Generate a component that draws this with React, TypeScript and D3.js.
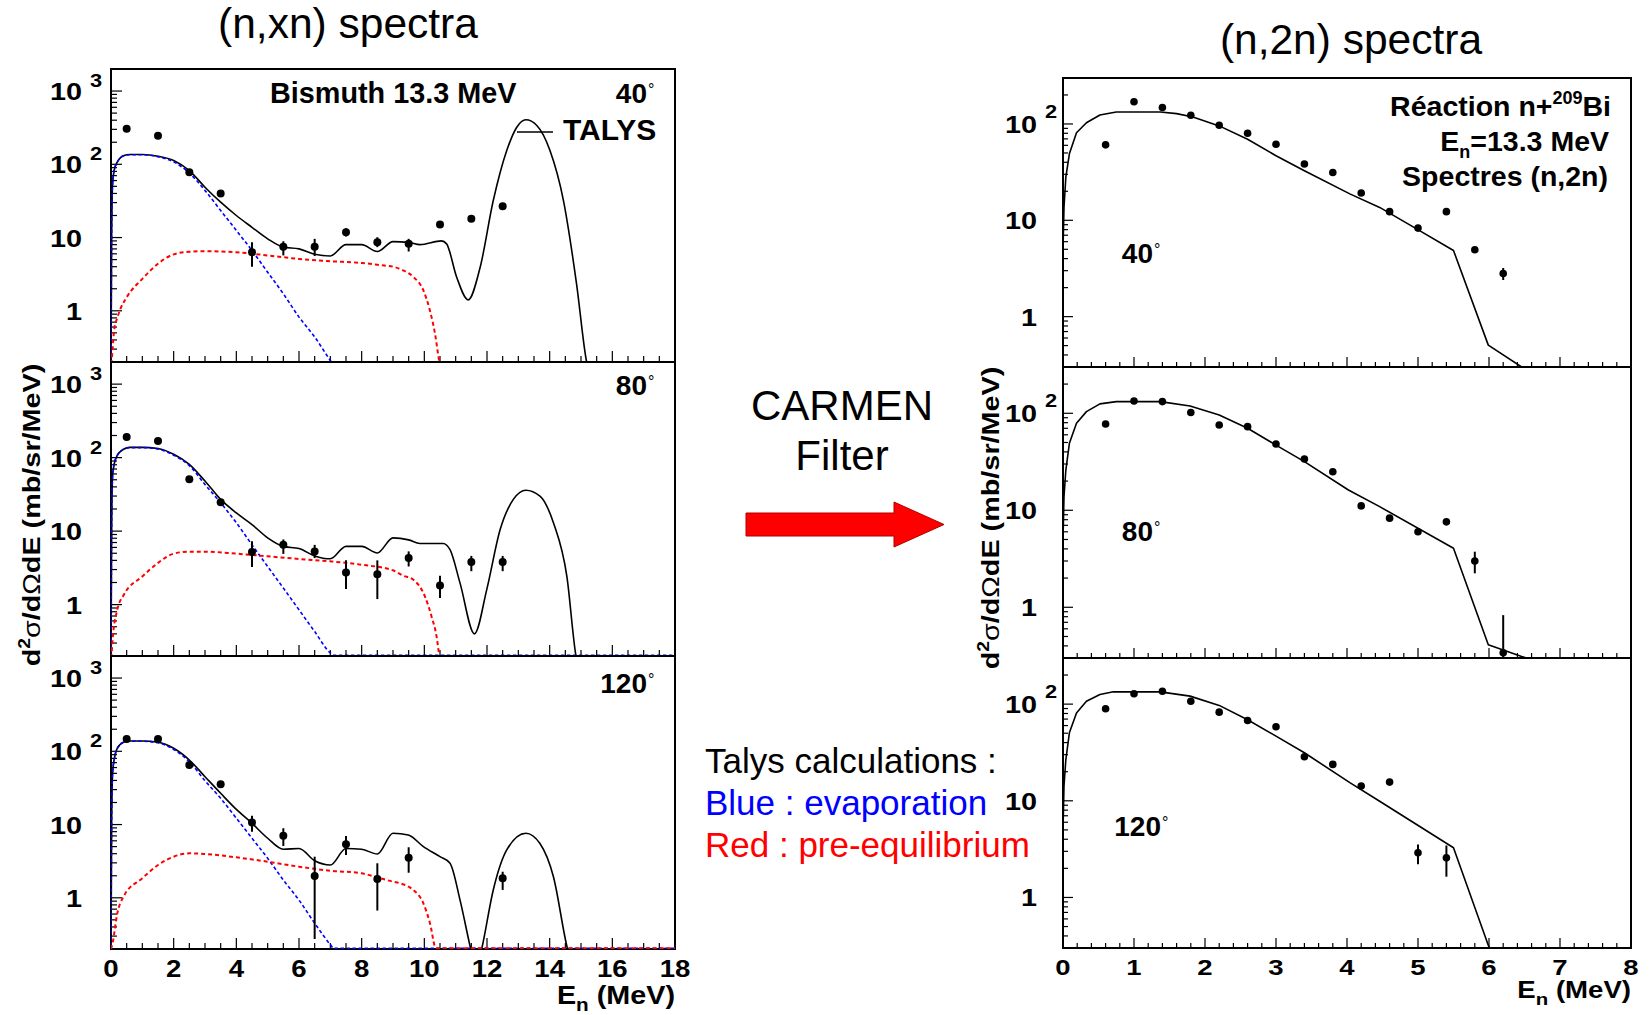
import React from "react";
import * as d3 from "d3";

type Pt = [number, number]; // [E (MeV), d2sigma/dOmega dE]
type DataPt = [number, number, number, number]; // [E, value, errLow, errHigh]

const FONT = "'Liberation Sans', Arial, Helvetica, sans-serif";

// ---------------- (n,xn) spectra : Bismuth 13.3 MeV ----------------
const xnAngleLabels = ["40", "80", "120"];
const xnXTickLabels = [0, 2, 4, 6, 8, 10, 12, 14, 16, 18];
const xnYTickLabels: [number, string, string][] = [
  [1000, "10", "3"],
  [100, "10", "2"],
  [10, "10", ""],
  [1, "1", ""],
];

const xn40Data: DataPt[] = [
  [0.5, 305, 305, 305], [1.5, 245, 245, 245], [2.5, 78, 78, 78], [3.5, 40, 40, 40],
  [4.5, 6.3, 4.0, 8.6], [5.5, 7.5, 5.7, 8.9], [6.5, 7.5, 5.6, 9.6], [7.5, 11.8, 10.3, 13.4],
  [8.5, 8.6, 7.4, 10.1], [9.5, 8.2, 6.45, 9.6], [10.5, 15.1, 15.1, 15.1], [11.5, 18, 18, 18],
  [12.5, 26.8, 26.8, 26.8],
];
const xn40Talys: Pt[] = [
  [0, 0.15], [0.02, 10], [0.05, 54], [0.1, 82], [0.2, 107], [0.4, 131], [0.6, 136], [1.0, 136],
  [1.5, 129], [2.0, 113], [2.5, 82], [3.0, 48.7], [3.5, 30.4], [4.0, 20], [4.5, 13.8], [5.0, 9.6],
  [5.5, 7.4], [6.0, 7.0], [6.5, 5.9], [7.0, 5.6], [7.5, 8.0], [8.0, 8.0], [8.5, 6.45], [9.0, 8.8],
  [9.5, 8.6], [9.86, 8.0], [10.55, 9.0], [10.71, 8.2], [11.03, 2.9], [11.4, 1.41], [11.78, 3.9],
  [12.2, 32], [12.63, 154], [12.95, 321], [13.24, 405], [13.59, 339], [14.01, 154], [14.44, 32],
  [14.86, 2.3], [15.18, 0.2], [15.25, 0.15],
];
const xn40Evap: Pt[] = [
  [0, 0.15], [0.02, 10], [0.05, 54], [0.1, 82], [0.2, 107], [0.4, 131], [0.6, 135], [1.0, 135],
  [1.5, 127], [2.0, 108], [2.5, 76], [3.0, 44], [3.5, 23.4], [4.0, 12.5], [4.5, 6.65], [5.0, 3.36],
  [5.5, 1.71], [6.0, 0.82], [6.5, 0.44], [7.0, 0.21], [7.2, 0.16],
];
const xn40Preeq: Pt[] = [
  [0, 0.15], [0.05, 0.3], [0.1, 0.54], [0.2, 0.8], [0.3, 1.06], [0.5, 1.53], [1.0, 2.73],
  [1.5, 4.4], [2.0, 5.9], [2.5, 6.4], [3.0, 6.5], [4.0, 6.3], [5.0, 5.7], [6.0, 5.1], [7.0, 4.75],
  [8.0, 4.5], [8.6, 4.2], [9.0, 4.0], [9.3, 3.6], [9.65, 2.9], [9.97, 1.9], [10.18, 1.0],
  [10.34, 0.49], [10.48, 0.2], [10.55, 0.15],
];

const xn80Data: DataPt[] = [
  [0.5, 191, 191, 191], [1.5, 169, 169, 169], [2.5, 50.6, 50.6, 50.6], [3.5, 24.8, 24.8, 24.8],
  [4.5, 5.2, 3.25, 7.3], [5.5, 6.55, 4.9, 7.7], [6.5, 5.3, 4.3, 6.5], [7.5, 2.74, 1.63, 4.0],
  [8.5, 2.6, 1.19, 4.0], [9.5, 4.3, 3.3, 5.3], [10.5, 1.82, 1.23, 2.47], [11.5, 3.8, 2.85, 4.6],
  [12.5, 3.8, 2.85, 4.6],
];
const xn80Talys: Pt[] = [
  [0, 0.15], [0.02, 10], [0.05, 56], [0.1, 81], [0.2, 107], [0.4, 130], [0.6, 138], [1.0, 138],
  [1.5, 133], [2.0, 111], [2.5, 81], [3.0, 48], [3.5, 27], [4.0, 17.7], [4.5, 12.3], [5.0, 8.1],
  [5.5, 6.2], [6.0, 5.8], [6.5, 4.6], [7.0, 4.2], [7.5, 6.2], [8.0, 6.2], [8.5, 5.05], [9.0, 8.1],
  [9.5, 7.6], [9.86, 6.8], [10.6, 6.8], [10.82, 5.6], [11.14, 1.96], [11.6, 0.4], [11.99, 1.59],
  [12.42, 10.5], [12.84, 27], [13.24, 36], [13.69, 30], [14.12, 13], [14.55, 2.4], [14.84, 0.2],
  [14.9, 0.15],
];
const xn80Evap: Pt[] = [
  [0, 0.15], [0.02, 10], [0.05, 56], [0.1, 81], [0.2, 107], [0.4, 130], [0.6, 137], [1.0, 137],
  [1.5, 131], [2.0, 108], [2.5, 78], [3.0, 43], [3.5, 24.3], [4.0, 13], [4.5, 6.5], [5.0, 3.3],
  [5.5, 1.68], [6.0, 0.85], [6.5, 0.43], [7.0, 0.22], [7.1, 0.205], [18, 0.205],
];
const xn80Preeq: Pt[] = [
  [0, 0.15], [0.05, 0.33], [0.2, 0.85], [0.41, 1.36], [1.0, 2.42], [1.5, 3.7], [2.0, 4.94],
  [2.5, 5.26], [3.0, 5.26], [4.0, 4.94], [5.0, 4.54], [6.0, 4.18], [7.0, 3.88], [8.0, 3.49],
  [9.0, 2.93], [9.3, 2.5], [9.65, 2.18], [10.02, 1.29], [10.23, 0.69], [10.39, 0.37],
  [10.48, 0.2], [10.55, 0.15],
];

const xn120Data: DataPt[] = [
  [0.5, 147, 147, 147], [1.5, 147, 147, 147], [2.5, 65, 65, 65], [3.5, 35.4, 35.4, 35.4],
  [4.5, 10.7, 8.0, 13.2], [5.5, 7.05, 5.1, 8.9], [6.5, 1.99, 0.274, 3.64], [7.5, 5.4, 3.84, 7.0],
  [8.5, 1.8, 0.67, 2.96], [9.5, 3.53, 2.2, 4.9], [12.5, 1.85, 1.28, 2.27],
];
const xn120Talys: Pt[] = [
  [0, 0.15], [0.02, 10], [0.05, 50], [0.1, 76], [0.2, 110], [0.4, 133], [0.6, 138], [1.0, 138],
  [1.5, 133], [2.0, 110], [2.5, 76], [3.0, 45], [3.5, 26.7], [4.0, 16.1], [4.5, 10.4], [5.0, 6.5],
  [5.5, 4.6], [6.0, 4.7], [6.5, 3.2], [7.0, 2.8], [7.5, 4.7], [8.0, 4.6], [8.5, 3.96], [9.0, 7.6],
  [9.49, 7.2], [9.97, 5.0], [10.5, 3.64], [10.82, 2.96], [11.14, 0.93], [11.48, 0.2],
  [11.65, 0.1], [11.83, 0.2], [12.2, 1.28], [12.63, 4.5], [13.24, 7.6], [13.69, 5.5],
  [14.12, 1.94], [14.57, 0.2], [14.65, 0.15],
];
const xn120Evap: Pt[] = [
  [0, 0.15], [0.02, 10], [0.05, 50], [0.1, 76], [0.2, 110], [0.4, 133], [0.6, 137], [1.0, 137],
  [1.5, 131], [2.0, 106], [2.5, 72], [3.0, 39.7], [3.5, 22.8], [4.0, 12.2], [4.5, 6.5],
  [5.0, 3.46], [5.5, 1.75], [6.0, 0.93], [6.5, 0.45], [7.0, 0.23], [7.1, 0.205], [18, 0.205],
];
const xn120Preeq: Pt[] = [
  [0, 0.2], [0.05, 0.24], [0.2, 0.61], [0.4, 1.04], [1.0, 1.85], [1.5, 2.8], [2.0, 3.64],
  [2.5, 4.05], [3.0, 3.96], [4.0, 3.57], [5.0, 3.11], [6.0, 2.66], [7.0, 2.34], [8.0, 2.16],
  [8.5, 1.9], [9.0, 1.66], [9.22, 1.58], [9.5, 1.42], [9.65, 1.28], [9.97, 0.84], [10.18, 0.45],
  [10.37, 0.205], [18, 0.205],
];

// ---------------- (n,2n) spectra : Réaction n+209Bi ----------------
const n2nAngleLabels = ["40", "80", "120"];
const n2nXTickLabels = [0, 1, 2, 3, 4, 5, 6, 7, 8];
const n2nYTickLabels: [number, string, string][] = [
  [100, "10", "2"],
  [10, "10", ""],
  [1, "1", ""],
];

const n2n40Data: DataPt[] = [
  [0.6, 60.7, 60.7, 60.7], [1.0, 170, 170, 170], [1.4, 148, 148, 148], [1.8, 123, 123, 123],
  [2.2, 97, 97, 97], [2.6, 80, 80, 80], [3.0, 61.6, 61.6, 61.6], [3.4, 38.4, 38.4, 38.4],
  [3.8, 31.4, 31.4, 31.4], [4.2, 19.2, 19.2, 19.2], [4.6, 12.3, 12.3, 12.3], [5.0, 8.3, 8.3, 8.3],
  [5.4, 12.3, 12.3, 12.3], [5.8, 4.94, 4.94, 4.94], [6.2, 2.8, 2.4, 3.2],
];
const n2n40Talys: Pt[] = [
  [0, 5], [0.014, 13.6], [0.04, 28], [0.09, 49], [0.19, 81], [0.33, 103], [0.52, 124],
  [0.75, 133], [1.37, 133], [1.6, 128], [1.83, 118], [2.2, 95.5], [2.6, 69.5], [3.0, 46.8],
  [3.4, 32.7], [4.04, 18.8], [4.46, 13.6], [4.98, 8.15], [5.5, 4.86], [5.99, 0.506], [6.46, 0.3],
  [6.6, 0.27],
];

const n2n80Data: DataPt[] = [
  [0.6, 77.6, 77.6, 77.6], [1.0, 134, 134, 134], [1.4, 132, 132, 132], [1.8, 102, 102, 102],
  [2.2, 75.7, 75.7, 75.7], [2.6, 72.8, 72.8, 72.8], [3.0, 48.3, 48.3, 48.3], [3.4, 33.8, 33.8, 33.8],
  [3.8, 25, 25, 25], [4.2, 11.1, 11.1, 11.1], [4.6, 8.3, 8.3, 8.3], [5.0, 6.0, 6.0, 6.0],
  [5.4, 7.6, 7.6, 7.6], [5.8, 3.0, 2.24, 3.74], [6.2, 0.34, 0.3, 0.83],
];
const n2n80Talys: Pt[] = [
  [0, 5], [0.014, 13.8], [0.04, 26], [0.09, 49], [0.19, 79], [0.33, 104], [0.52, 125],
  [0.75, 132], [1.37, 132], [1.79, 119], [2.2, 96], [2.6, 70], [3.0, 47], [3.4, 31.7],
  [4.02, 16.2], [4.46, 10.9], [5.5, 4.06], [5.99, 0.41], [6.46, 0.31], [6.6, 0.29],
];

const n2n120Data: DataPt[] = [
  [0.6, 89.5, 89.5, 89.5], [1.0, 128, 128, 128], [1.4, 136, 136, 136], [1.8, 107, 107, 107],
  [2.2, 82.6, 82.6, 82.6], [2.6, 67.8, 67.8, 67.8], [3.0, 58.3, 58.3, 58.3], [3.4, 28.5, 28.5, 28.5],
  [3.8, 23.8, 23.8, 23.8], [4.2, 14.2, 14.2, 14.2], [4.6, 15.6, 15.6, 15.6], [5.0, 2.9, 2.2, 3.54],
  [5.4, 2.57, 1.64, 3.45],
];
const n2n120Talys: Pt[] = [
  [0, 5], [0.014, 14.2], [0.04, 26.7], [0.09, 50.5], [0.19, 81], [0.33, 107], [0.52, 126],
  [0.71, 134], [1.37, 134], [1.79, 121], [2.2, 97], [2.6, 69], [3.0, 46.6], [3.4, 31.4],
  [4.04, 15.4], [4.46, 9.9], [5.45, 3.45], [5.5, 3.27], [5.99, 0.32], [6.02, 0.29],
];

// ---------------- helpers ----------------
interface Curve {
  pts: Pt[];
  color: string;
  width: number;
  dash?: string;
  smooth: boolean;
}

function logTicks(min: number, max: number) {
  const out: { v: number; major: boolean }[] = [];
  for (let k = Math.floor(Math.log10(min)); k <= Math.ceil(Math.log10(max)); k++) {
    for (let m = 1; m <= 9; m++) {
      const v = m * Math.pow(10, k);
      if (v >= min * 0.999 && v <= max * 1.001) out.push({ v, major: m === 1 });
    }
  }
  return out;
}

interface PanelProps {
  id: string;
  x0: number; x1: number; y0: number; y1: number;
  xDomain: [number, number]; yDomain: [number, number];
  xMajor: number; xMinor: number;
  majLen: number; minLen: number;
  curves: Curve[];
  data: DataPt[];
  r: number;
}

function Panel(p: PanelProps) {
  const xs = d3.scaleLinear().domain(p.xDomain).range([p.x0, p.x1]);
  const ys = d3.scaleLog().domain(p.yDomain).range([p.y1, p.y0]);
  const nX = Math.round((p.xDomain[1] - p.xDomain[0]) / p.xMinor);
  const xTicks = d3.range(0, nX + 1).map((i) => p.xDomain[0] + i * p.xMinor);
  const yTicks = logTicks(p.yDomain[0], p.yDomain[1]);
  return (
    <g>
      <defs>
        <clipPath id={p.id}>
          <rect x={p.x0} y={p.y0} width={p.x1 - p.x0} height={p.y1 - p.y0} />
        </clipPath>
      </defs>
      <rect x={p.x0} y={p.y0} width={p.x1 - p.x0} height={p.y1 - p.y0} fill="#fff" stroke="#000" strokeWidth={2} />
      {xTicks.map((v, i) => {
        const q = v / p.xMajor;
        const major = Math.abs(q - Math.round(q)) < 1e-6;
        return (
          <line key={"xt" + i} x1={xs(v)} x2={xs(v)} y1={p.y1} y2={p.y1 - (major ? p.majLen : p.minLen)} stroke="#000" strokeWidth={1.2} />
        );
      })}
      {yTicks.map((t, i) => (
        <line key={"yt" + i} x1={p.x0} x2={p.x0 + (t.major ? p.majLen : p.minLen)} y1={ys(t.v)} y2={ys(t.v)} stroke="#000" strokeWidth={1.2} />
      ))}
      <g clipPath={`url(#${p.id})`}>
        {p.curves.map((c, i) => {
          const gen = d3
            .line<Pt>()
            .x((d) => xs(d[0]))
            .y((d) => ys(d[1]))
            .curve(c.smooth ? d3.curveMonotoneX : d3.curveLinear);
          return (
            <path key={"c" + i} d={gen(c.pts) || ""} fill="none" stroke={c.color} strokeWidth={c.width} strokeDasharray={c.dash} strokeLinejoin="round" />
          );
        })}
        {p.data.map((d, i) =>
          d[2] !== d[3] ? (
            <line key={"e" + i} x1={xs(d[0])} x2={xs(d[0])} y1={ys(d[2])} y2={ys(d[3])} stroke="#000" strokeWidth={2} />
          ) : null
        )}
        {p.data.map((d, i) => (
          <circle key={"m" + i} cx={xs(d[0])} cy={ys(d[1])} r={p.r} fill="#000" />
        ))}
      </g>
    </g>
  );
}

export default function App() {
  // layout of the two figures
  const L = { x0: 111, x1: 675, tops: [69, 362, 656], bots: [362, 656, 949] };
  const R = { x0: 1063, x1: 1631, tops: [78, 367, 658], bots: [367, 658, 948] };
  const xnDomainY: [number, number] = [0.2, 2000];
  const n2nDomainY: [number, number] = [0.3, 300];

  const xnSets = [
    { data: xn40Data, talys: xn40Talys, evap: xn40Evap, preeq: xn40Preeq },
    { data: xn80Data, talys: xn80Talys, evap: xn80Evap, preeq: xn80Preeq },
    { data: xn120Data, talys: xn120Talys, evap: xn120Evap, preeq: xn120Preeq },
  ];
  const n2nSets = [
    { data: n2n40Data, talys: n2n40Talys },
    { data: n2n80Data, talys: n2n80Talys },
    { data: n2n120Data, talys: n2n120Talys },
  ];

  const lxs = d3.scaleLinear().domain([0, 18]).range([L.x0, L.x1]);
  const rxs = d3.scaleLinear().domain([0, 8]).range([R.x0, R.x1]);
  const lys = L.tops.map((t, i) => d3.scaleLog().domain(xnDomainY).range([L.bots[i], t]));
  const rys = R.tops.map((t, i) => d3.scaleLog().domain(n2nDomainY).range([R.bots[i], t]));

  const bold = { fontFamily: FONT, fontWeight: 700 as const };

  return (
    <svg width={1650} height={1015} style={{ position: "absolute", left: 0, top: 0, background: "#fff" }}>
      <rect x={0} y={0} width={1650} height={1015} fill="#fff" />

      {/* titles */}
      <text x={348} y={38} textAnchor="middle" fontFamily={FONT} fontSize={42.5}>(n,xn) spectra</text>
      <text x={1351} y={54} textAnchor="middle" fontFamily={FONT} fontSize={42.5}>(n,2n) spectra</text>

      {/* ---------- left figure ---------- */}
      {xnSets.map((s, i) => (
        <Panel
          key={"L" + i}
          id={"clipL" + i}
          x0={L.x0} x1={L.x1} y0={L.tops[i]} y1={L.bots[i]}
          xDomain={[0, 18]} yDomain={xnDomainY}
          xMajor={2} xMinor={0.5} majLen={11} minLen={6}
          r={4}
          data={s.data}
          curves={[
            { pts: s.talys, color: "#000", width: 1.6, smooth: true },
            { pts: s.evap, color: "#0000ff", width: 1.6, dash: "3.5 2.5", smooth: true },
            { pts: s.preeq, color: "#ff0000", width: 2, dash: "4 3", smooth: true },
          ]}
        />
      ))}
      {/* left y tick labels */}
      {lys.map((ys, i) =>
        xnYTickLabels.map(([v, base, sup], j) => (
          <g key={`lyl${i}-${j}`}>
            <text transform={`translate(${L.x0 - 29},${ys(v) + 9}) scale(1.2,1)`} textAnchor="end" {...bold} fontSize={24}>{base}</text>
            {sup ? (
              <text transform={`translate(${L.x0 - 21},${ys(v) - 4}) scale(1.15,1)`} {...bold} fontSize={19}>{sup}</text>
            ) : null}
          </g>
        ))
      )}
      {/* left x tick labels */}
      {xnXTickLabels.map((v) => (
        <text key={"lxl" + v} transform={`translate(${lxs(v)},${977}) scale(1.2,1)`} textAnchor="middle" {...bold} fontSize={23}>{v}</text>
      ))}
      <text transform={`translate(${L.x1},${1004}) scale(1.15,1)`} textAnchor="end" {...bold} fontSize={25}>
        E<tspan fontSize={18} dy={7}>n</tspan><tspan dy={-7}> (MeV)</tspan>
      </text>
      <text transform={`translate(${40},${515}) rotate(-90) scale(1.2,1)`} textAnchor="middle" {...bold} fontSize={24}>
        d<tspan fontSize={16} dy={-10}>2</tspan><tspan dy={10} fontWeight={400}>σ</tspan>/d<tspan fontWeight={400}>Ω</tspan>dE (mb/sr/MeV)
      </text>

      {/* left panel labels */}
      <text x={270} y={103} {...bold} fontSize={28.8}>Bismuth 13.3 MeV</text>
      <line x1={517} x2={553} y1={132} y2={132} stroke="#000" strokeWidth={1.6} />
      <text x={563} y={140} {...bold} fontSize={30}>TALYS</text>
      {xnAngleLabels.map((a, i) => {
        const base = [103, 395, 693][i];
        return (
          <g key={"la" + a}>
            <text x={647} y={base} textAnchor="end" {...bold} fontSize={28}>{a}</text>
            <text x={648} y={base - 8} fontFamily={FONT} fontSize={16}>°</text>
          </g>
        );
      })}

      {/* ---------- middle annotations ---------- */}
      <text x={842} y={420} textAnchor="middle" fontFamily={FONT} fontSize={42}>CARMEN</text>
      <text x={842} y={470} textAnchor="middle" fontFamily={FONT} fontSize={42}>Filter</text>
      <polygon points="746,513 894,513 894,502 944,524.5 894,547 894,536 746,536" fill="#ff0000" stroke="#b00000" strokeWidth={1} />
      <text x={705} y={773} fontFamily={FONT} fontSize={35} fill="#000">Talys calculations :</text>
      <text x={705} y={815} fontFamily={FONT} fontSize={35} fill="#0000ff">Blue : evaporation</text>
      <text x={705} y={857} fontFamily={FONT} fontSize={35} fill="#ff0000">Red : pre-equilibrium</text>

      {/* ---------- right figure ---------- */}
      {n2nSets.map((s, i) => (
        <Panel
          key={"R" + i}
          id={"clipR" + i}
          x0={R.x0} x1={R.x1} y0={R.tops[i]} y1={R.bots[i]}
          xDomain={[0, 8]} yDomain={n2nDomainY}
          xMajor={1} xMinor={0.2} majLen={10} minLen={5}
          r={3.8}
          data={s.data}
          curves={[{ pts: s.talys, color: "#000", width: 1.6, smooth: false }]}
        />
      ))}
      {rys.map((ys, i) =>
        n2nYTickLabels.map(([v, base, sup], j) => (
          <g key={`ryl${i}-${j}`}>
            <text transform={`translate(${R.x0 - 26},${ys(v) + 9}) scale(1.2,1)`} textAnchor="end" {...bold} fontSize={24}>{base}</text>
            {sup ? (
              <text transform={`translate(${R.x0 - 18},${ys(v) - 6}) scale(1.15,1)`} {...bold} fontSize={19}>{sup}</text>
            ) : null}
          </g>
        ))
      )}
      {n2nXTickLabels.map((v) => (
        <text key={"rxl" + v} transform={`translate(${rxs(v)},${975}) scale(1.25,1)`} textAnchor="middle" {...bold} fontSize={22}>{v}</text>
      ))}
      <text transform={`translate(${R.x1},${998}) scale(1.2,1)`} textAnchor="end" {...bold} fontSize={23}>
        E<tspan fontSize={17} dy={7}>n</tspan><tspan dy={-7}> (MeV)</tspan>
      </text>
      <text transform={`translate(${999},${518}) rotate(-90) scale(1.2,1)`} textAnchor="middle" {...bold} fontSize={24}>
        d<tspan fontSize={16} dy={-10}>2</tspan><tspan dy={10} fontWeight={400}>σ</tspan>/d<tspan fontWeight={400}>Ω</tspan>dE (mb/sr/MeV)
      </text>

      {/* right panel labels */}
      <text x={1611} y={116} textAnchor="end" {...bold} fontSize={28.5}>
        Réaction n+<tspan fontSize={18} dy={-12}>209</tspan><tspan dy={12}>Bi</tspan>
      </text>
      <text x={1609} y={151} textAnchor="end" {...bold} fontSize={28.5}>
        E<tspan fontSize={18} dy={7}>n</tspan><tspan dy={-7}>=13.3 MeV</tspan>
      </text>
      <text x={1608} y={186} textAnchor="end" {...bold} fontSize={28.5}>Spectres (n,2n)</text>
      {n2nAngleLabels.map((a, i) => {
        const base = [263, 541, 836][i];
        const end = [1153, 1153, 1161][i];
        return (
          <g key={"ra" + a}>
            <text x={end} y={base} textAnchor="end" {...bold} fontSize={28}>{a}</text>
            <text x={end + 1} y={base - 8} fontFamily={FONT} fontSize={16}>°</text>
          </g>
        );
      })}
    </svg>
  );
}
